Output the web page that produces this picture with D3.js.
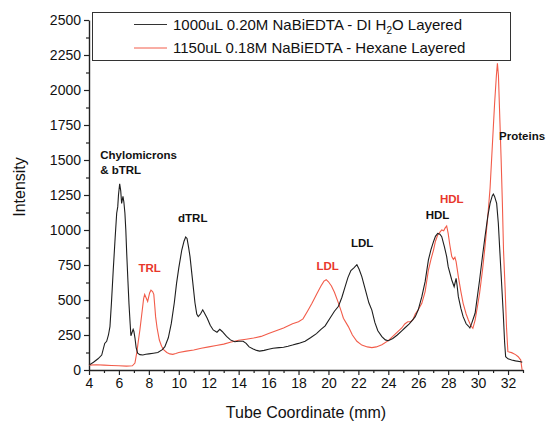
<!DOCTYPE html>
<html>
<head>
<meta charset="utf-8">
<script src="https://cdn.jsdelivr.net/npm/d3@7"></script>
<style>
  body { margin: 0; background: #fff; }
  svg { display: block; font-family: "Liberation Sans", Arial, sans-serif; }
</style>
</head>
<body>
<div id="chart"></div>
<script>
// black trace: 1000uL 0.20M NaBiEDTA - DI H2O Layered
const waterX = [4.0, 4.3, 4.6, 4.85, 5.05, 5.18, 5.3, 5.4, 5.5, 5.62, 5.75, 5.85, 5.92, 5.97, 6.05, 6.12, 6.18, 6.27, 6.33, 6.4,
  6.46, 6.52, 6.6, 6.67, 6.75, 6.8, 6.88, 6.95, 7.0, 7.07, 7.15, 7.25, 7.4, 7.6, 7.8, 8.0, 8.3, 8.6, 8.9, 9.07,
  9.3, 9.5, 9.7, 9.85, 10.0, 10.2, 10.35, 10.46, 10.55, 10.65, 10.75, 10.9, 11.08, 11.2, 11.3, 11.45, 11.6, 11.75, 11.9, 12.1,
  12.3, 12.55, 12.74, 12.9, 13.19, 13.45, 13.74, 14.0, 14.3, 14.5, 14.7, 14.97, 15.2, 15.4, 15.7, 16.0, 16.3, 16.7, 17.0, 17.3,
  17.6, 18.0, 18.44, 18.8, 19.2, 19.5, 19.78, 20.1, 20.4, 20.67, 20.9, 21.1, 21.3, 21.5, 21.7, 21.9, 22.05, 22.23, 22.5, 22.7,
  22.9, 23.1, 23.3, 23.57, 23.8, 24.0, 24.3, 24.6, 24.9, 25.1, 25.4, 25.6, 25.8, 26.0, 26.24, 26.46, 26.68, 26.85, 27.02, 27.15,
  27.3, 27.45, 27.57, 27.75, 27.9, 28.0, 28.24, 28.4, 28.53, 28.6, 28.68, 28.85, 29.0, 29.2, 29.35, 29.45, 29.57, 29.8, 30.1, 30.3,
  30.46, 30.65, 30.8, 30.95, 31.02, 31.1, 31.24, 31.35, 31.46, 31.58, 31.68, 31.77, 31.84, 32.0, 32.24, 32.5, 32.85, 32.95];
const waterY = [35, 55, 80, 107, 190, 205, 250, 310, 480, 714, 950, 1120, 1165, 1250, 1330, 1280, 1190, 1240, 1200, 1120,
  1000, 833, 640, 476, 330, 245, 270, 290, 275, 230, 160, 120, 110, 107, 112, 115, 120, 125, 145, 167,
  230, 333, 480, 619, 730, 857, 920, 950, 940, 880, 810, 660, 480, 400, 381, 400, 430, 400, 369, 320,
  286, 270, 291, 275, 240, 215, 202, 205, 205, 190, 165, 150, 140, 135, 140, 148, 155, 160, 163, 170,
  178, 190, 205, 230, 260, 290, 315, 370, 420, 455, 520, 590, 660, 710, 730, 752, 720, 667, 560, 480,
  428, 340, 280, 238, 215, 209, 225, 250, 280, 300, 330, 355, 381, 430, 524, 631, 786, 860, 917, 955,
  976, 970, 952, 880, 810, 738, 643, 595, 655, 600, 524, 440, 381, 330, 314, 300, 333, 405, 643, 820,
  952, 1100, 1190, 1245, 1257, 1240, 1190, 1050, 833, 600, 405, 200, 95, 80, 71, 65, 59, 55];

// red trace: 1150uL 0.18M NaBiEDTA - Hexane Layered
const hexaneX = [4.0, 4.5, 5.0, 5.5, 6.0, 6.5, 6.9, 7.07, 7.2, 7.3, 7.4, 7.55, 7.65, 7.72, 7.8, 7.92, 8.05, 8.14, 8.25, 8.33,
  8.4, 8.45, 8.55, 8.7, 8.85, 9.0, 9.2, 9.4, 9.6, 9.8, 10.0, 10.5, 11.0, 11.5, 12.0, 12.5, 13.0, 13.5, 14.0, 14.5,
  15.0, 15.5, 16.0, 16.5, 17.0, 17.6, 18.0, 18.3, 18.6, 18.9, 19.2, 19.5, 19.7, 19.85, 20.0, 20.2, 20.4, 20.67, 20.85, 21.0,
  21.33, 21.6, 21.9, 22.23, 22.6, 22.9, 23.2, 23.57, 24.0, 24.3, 24.6, 24.9, 25.1, 25.3, 25.5, 25.65, 25.8, 26.0, 26.24, 26.46,
  26.68, 26.85, 27.02, 27.15, 27.3, 27.45, 27.57, 27.7, 27.8, 27.9, 28.0, 28.1, 28.24, 28.35, 28.45, 28.53, 28.68, 28.85, 29.0, 29.2,
  29.35, 29.5, 29.65, 29.8, 29.95, 30.1, 30.3, 30.46, 30.65, 30.8, 30.95, 31.1, 31.22, 31.29, 31.36, 31.45, 31.54, 31.62, 31.7, 31.8,
  31.9, 31.99, 32.24, 32.5, 32.68, 32.85, 32.94];
const hexaneY = [35, 38, 35, 32, 30, 28, 30, 50, 130, 210, 286, 420, 510, 540, 520, 490, 550, 570, 560, 540,
  450, 381, 300, 214, 170, 143, 125, 115, 112, 118, 125, 135, 143, 155, 165, 175, 185, 200, 212, 220,
  228, 240, 260, 280, 300, 330, 345, 365, 420, 476, 540, 600, 635, 645, 630, 600, 555, 478, 420, 370,
  310, 250, 205, 178, 165, 160, 165, 180, 210, 240, 270, 300, 329, 345, 345, 360, 400, 430, 476, 560,
  714, 790, 857, 920, 964, 985, 1000, 995, 1015, 1029, 976, 900, 810, 790, 805, 774, 667, 560, 476, 400,
  357, 320, 298, 357, 450, 548, 720, 881, 1100, 1300, 1600, 1900, 2100, 2190, 2100, 1800, 1500, 1200, 850, 595,
  300, 131, 124, 110, 95, 71, 0];

const xMajor = [4, 6, 8, 10, 12, 14, 16, 18, 20, 22, 24, 26, 28, 30, 32];
const yMajor = [0, 250, 500, 750, 1000, 1250, 1500, 1750, 2000, 2250, 2500];

const legendLabels = ["1000uL 0.20M NaBiEDTA - DI H", "1150uL 0.18M NaBiEDTA - Hexane Layered"];

// peak labels: [text, x mm, intensity, colour]
const peakLabels = [
  ["Chylomicrons", 4.75, 1510, "#111"],
  ["& bTRL", 4.75, 1400, "#111"],
  ["dTRL", 9.95, 1060, "#111"],
  ["TRL", 7.3, 700, "#e8372b"],
  ["LDL", 19.2, 715, "#e8372b"],
  ["LDL", 21.5, 880, "#111"],
  ["HDL", 26.5, 1080, "#111"],
  ["HDL", 27.45, 1190, "#e8372b"],
  ["Proteins", 31.4, 1640, "#111"]
];

const W = 555, H = 422;
const plotLeft = 89, plotRight = 523, plotTop = 20, plotBottom = 370;

const svg = d3.select("#chart").append("svg")
  .attr("width", W).attr("height", H);

const x = d3.scaleLinear().domain([4, 33]).range([plotLeft, plotRight]);
const y = d3.scaleLinear().domain([0, 2500]).range([plotBottom, plotTop]);

// minor ticks
svg.append("g")
  .attr("transform", "translate(0," + plotBottom + ")")
  .call(d3.axisBottom(x).tickValues(d3.range(5, 34, 2)).tickSize(3).tickFormat(""))
  .call(g => g.select(".domain").remove());
svg.append("g")
  .attr("transform", "translate(" + plotLeft + ",0)")
  .call(d3.axisLeft(y).tickValues(d3.range(125, 2500, 250)).tickSize(3).tickFormat(""))
  .call(g => g.select(".domain").remove());

svg.append("g")
  .attr("transform", "translate(0," + plotBottom + ")")
  .call(d3.axisBottom(x).tickValues(xMajor).tickFormat(d3.format("d")).tickSize(5).tickSizeOuter(0).tickPadding(3));
svg.append("g")
  .attr("transform", "translate(" + plotLeft + ",0)")
  .call(d3.axisLeft(y).tickValues(yMajor).tickFormat(d3.format("d")).tickSize(5).tickSizeOuter(0).tickPadding(3));

svg.selectAll(".tick line").attr("stroke", "#222").attr("stroke-width", 1.2);
svg.selectAll(".domain").attr("stroke", "#222").attr("stroke-width", 1.4);
svg.selectAll(".tick text")
  .attr("font-size", 14)
  .attr("font-family", "Liberation Sans, Arial, sans-serif")
  .attr("fill", "#111");

// axis titles
svg.append("text")
  .attr("x", (plotLeft + plotRight) / 2).attr("y", 418)
  .attr("text-anchor", "middle")
  .attr("font-size", 16).attr("fill", "#111")
  .text("Tube Coordinate (mm)");
svg.append("text")
  .attr("transform", "translate(25,187) rotate(-90)")
  .attr("text-anchor", "middle")
  .attr("font-size", 16).attr("fill", "#111")
  .text("Intensity");

const line = (xs, ys) => d3.line()
  .x((d, i) => x(xs[i]))
  .y((d, i) => y(ys[i]))(ys);

svg.append("path")
  .attr("d", line(hexaneX, hexaneY))
  .attr("fill", "none").attr("stroke", "#f25c4a").attr("stroke-width", 1.1);
svg.append("path")
  .attr("d", line(waterX, waterY))
  .attr("fill", "none").attr("stroke", "#1e1e1e").attr("stroke-width", 1.1);

// peak labels
svg.selectAll(".peak")
  .data(peakLabels).enter()
  .append("text")
  .attr("class", "peak")
  .attr("x", d => x(d[1]))
  .attr("y", d => y(d[2]))
  .attr("font-size", 11.5)
  .attr("font-weight", "bold")
  .attr("fill", d => d[3])
  .text(d => d[0]);

// legend
const lg = svg.append("g");
lg.append("rect")
  .attr("x", 92.5).attr("y", 12.5).attr("width", 418).attr("height", 48)
  .attr("fill", "#fff").attr("stroke", "#333").attr("stroke-width", 1);
lg.append("line").attr("x1", 134).attr("x2", 167).attr("y1", 24.5).attr("y2", 24.5)
  .attr("stroke", "#333").attr("stroke-width", 1);
lg.append("line").attr("x1", 134).attr("x2", 167).attr("y1", 48).attr("y2", 48)
  .attr("stroke", "#f25c4a").attr("stroke-width", 1);
const t1 = lg.append("text").attr("x", 173).attr("y", 29.5)
  .attr("font-size", 15).attr("fill", "#111");
t1.append("tspan").text(legendLabels[0]);
t1.append("tspan").attr("font-size", 10).attr("dy", 4).text("2");
t1.append("tspan").attr("dy", -4).text("O Layered");
lg.append("text").attr("x", 173).attr("y", 53)
  .attr("font-size", 15).attr("fill", "#111")
  .text(legendLabels[1]);
</script>
</body>
</html>
